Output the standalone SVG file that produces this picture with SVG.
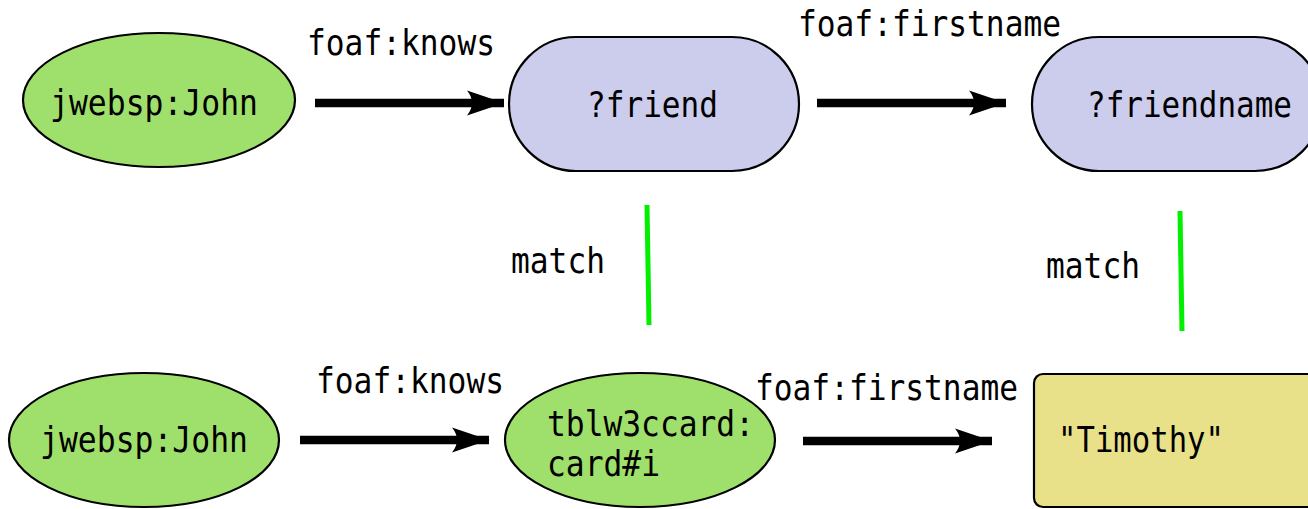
<svg xmlns="http://www.w3.org/2000/svg" width="1308" height="509" viewBox="0 0 1308 509">
<defs>
<style>
.t{font-family:"DejaVu Sans Mono","Liberation Mono",monospace;font-size:36px;fill:#000;}
.res{fill:#9fdf6b;stroke:#000;stroke-width:2.2;}
.var{fill:#ccccec;stroke:#000;stroke-width:2.2;}
.lit{fill:#e9e189;stroke:#000;stroke-width:2.2;}
.edge{stroke:#000;stroke-width:8.5;fill:none;marker-end:url(#ah);}
.match{stroke:#00f000;stroke-width:5;}
</style>
<marker id="ah" markerUnits="userSpaceOnUse" markerWidth="42" markerHeight="28" viewBox="-38 -14 42 28" refX="0" refY="0" orient="auto">
<path d="M0,0 L-37,-12.5 Q-27,0 -37,12.5 Z" fill="#000"/>
</marker>
</defs>
<rect width="1308" height="509" fill="#fff"/>
<g id="connectors">
<line class="edge" x1="315" y1="103" x2="504" y2="103"/>
<line class="edge" x1="817" y1="103" x2="1006" y2="103"/>
<line class="edge" x1="300" y1="440" x2="489" y2="440"/>
<line class="edge" x1="803" y1="441" x2="992" y2="441"/>
<line class="match" x1="647" y1="205" x2="649" y2="325"/>
<line class="match" x1="1180" y1="211" x2="1182" y2="331"/>
<text class="t" x="307" y="55" textLength="188" lengthAdjust="spacingAndGlyphs">foaf:knows</text>
<text class="t" x="798" y="36" textLength="263" lengthAdjust="spacingAndGlyphs">foaf:firstname</text>
<text class="t" x="316" y="393" textLength="188" lengthAdjust="spacingAndGlyphs">foaf:knows</text>
<text class="t" x="755" y="400" textLength="263" lengthAdjust="spacingAndGlyphs">foaf:firstname</text>
<text class="t" x="511" y="273" textLength="94" lengthAdjust="spacingAndGlyphs">match</text>
<text class="t" x="1046" y="278" textLength="94" lengthAdjust="spacingAndGlyphs">match</text>
</g>
<g id="john1">
<ellipse class="res" cx="159" cy="100" rx="136" ry="67"/>
<text class="t" x="50" y="115" textLength="208" lengthAdjust="spacingAndGlyphs">jwebsp:John</text>
</g>
<g id="friend">
<rect class="var" x="509" y="37" width="290" height="134" rx="67" ry="67"/>
<text class="t" x="587" y="117" textLength="131" lengthAdjust="spacingAndGlyphs">?friend</text>
</g>
<g id="friendname">
<rect class="var" x="1032" y="37" width="290" height="134" rx="67" ry="67"/>
<text class="t" x="1087" y="117" textLength="205" lengthAdjust="spacingAndGlyphs">?friendname</text>
</g>
<g id="john2">
<ellipse class="res" cx="144" cy="440" rx="135" ry="67"/>
<text class="t" x="40" y="452" textLength="208" lengthAdjust="spacingAndGlyphs">jwebsp:John</text>
</g>
<g id="card">
<ellipse class="res" cx="640" cy="440" rx="135" ry="67"/>
<text class="t" x="547" y="436" textLength="207" lengthAdjust="spacingAndGlyphs">tblw3ccard:</text>
<text class="t" x="547" y="476" textLength="113" lengthAdjust="spacingAndGlyphs">card#i</text>
</g>
<g id="timothy">
<rect class="lit" x="1034" y="374" width="290" height="133" rx="9" ry="9"/>
<text class="t" x="1058" y="452" textLength="166" lengthAdjust="spacingAndGlyphs">"Timothy"</text>
</g>
</svg>
